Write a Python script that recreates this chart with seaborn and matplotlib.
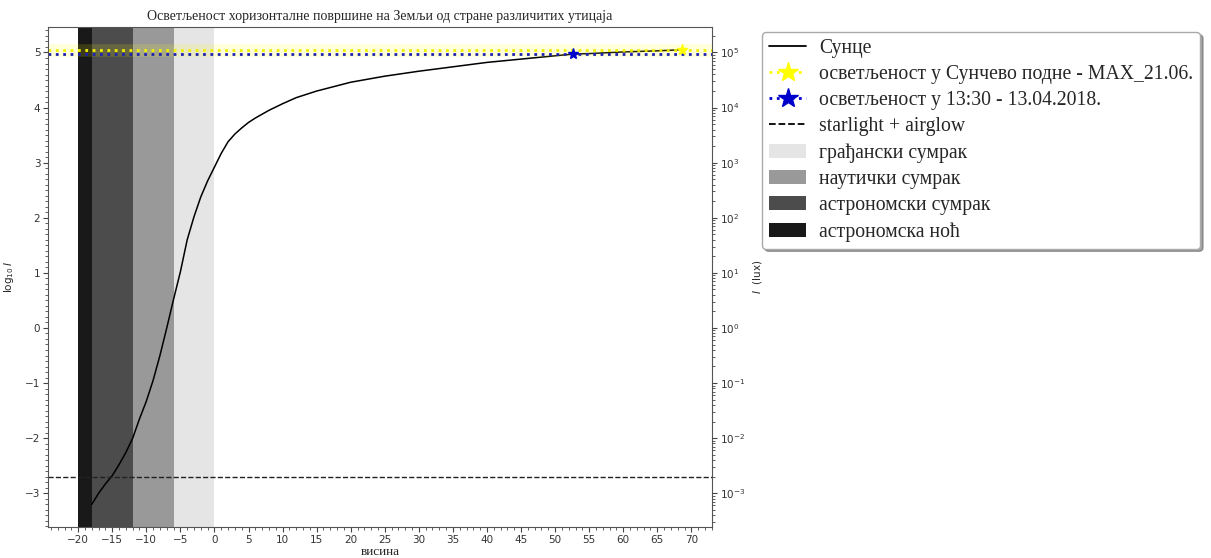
import numpy as np
import pandas as pd
import matplotlib
matplotlib.use('Agg')
import matplotlib.pyplot as plt
from matplotlib.lines import Line2D
from matplotlib.patches import Patch
from matplotlib.ticker import MultipleLocator, FixedLocator, LogLocator, NullFormatter
import seaborn as sns

# ── data ─────────────────────────────────────────────────────────────────────
altitude = [-18, -17, -16, -15, -14, -13, -12, -11, -10, -9, -8, -7, -6, -5, -4,
            -3, -2, -1, 0, 1, 2, 3, 4, 5, 6, 8, 10, 12, 15, 20, 25, 30, 35, 40,
            45, 50, 52.6, 55, 60, 65, 68.6]
log_lux = [-3.2, -3.0, -2.83, -2.68, -2.48, -2.26, -2.0, -1.65, -1.33, -0.95,
           -0.5, 0.0, 0.52, 1.02, 1.6, 2.02, 2.38, 2.67, 2.92, 3.17, 3.38, 3.52,
           3.63, 3.73, 3.81, 3.95, 4.07, 4.18, 4.3, 4.46, 4.57, 4.66, 4.74, 4.82,
           4.88, 4.94, 4.97, 4.98, 5.01, 5.03, 5.05]

noon_max_alt, noon_max_log = 68.6, 5.05      # 21.06.
april_alt, april_log = 52.6, 4.97            # 13:30 - 13.04.2018.
starlight_lux = 0.002

twilight_from = [-6, -12, -18, -20]
twilight_to = [0, -6, -12, -18]
twilight_alpha = [0.1, 0.4, 0.7, 0.9]
twilight_names = ['грађански сумрак', 'наутички сумрак', 'астрономски сумрак', 'астрономска ноћ']

lux_decades = list(range(-3, 6))   # right axis ticks, 10^k lux

title = 'Осветљеност хоризонталне површине на Земљи од стране различитих утицаја'

# ── figure ───────────────────────────────────────────────────────────────────
sns.set_style('white')
plt.rcParams['font.family'] = ['DejaVu Sans']
SERIF = ['Liberation Serif', 'DejaVu Serif']

fig = plt.figure(figsize=(12.11, 5.58), dpi=100)
ax = fig.add_axes([48 / 1211, 1 - 527 / 558, 664 / 1211, 500 / 558])

for a, b, al in zip(twilight_from, twilight_to, twilight_alpha):
    ax.axvspan(a, b, color='black', alpha=al, lw=0)

df = pd.DataFrame({'alt': altitude, 'log': log_lux})
sns.lineplot(data=df, x='alt', y='log', ax=ax, color='black', lw=1.1)

ax.axhline(noon_max_log, color='yellow', alpha=0.15, lw=9)
ax.axhline(noon_max_log, color='#f0f000', ls=':', lw=2)
ax.axhline(april_log, color='#2020b0', ls=':', lw=2)
ax.axhline(np.log10(starlight_lux), color='#222222', ls='--', lw=1)
ax.plot([noon_max_alt], [noon_max_log], marker='*', color='yellow', ms=8, ls='none')
ax.plot([april_alt], [april_log], marker='*', color='#0000cc', ms=8, ls='none')

ax.margins(x=0.05, y=0.05)
ax.xaxis.set_major_locator(MultipleLocator(5))
ax.xaxis.set_minor_locator(MultipleLocator(1))
ax.yaxis.set_major_locator(MultipleLocator(1))
ax.yaxis.set_minor_locator(MultipleLocator(0.1))
ax.tick_params(which='major', length=3.5, width=0.8, labelsize=7.5, colors='#444444',
               direction='out', pad=2)
ax.tick_params(which='minor', length=2, width=0.6, colors='#444444', direction='out')
ax.tick_params(axis='both', labelcolor='#333333')
ax.tick_params(bottom=True, left=True, which='both')
ax.set_xlabel('висина', family=SERIF, fontsize=9.5, labelpad=1)
ax.set_ylabel(r'$\log_{10}I$', fontsize=7.5)
ax.yaxis.set_label_coords(-0.048, 0.5)
ax.set_title(title, family=SERIF, fontsize=10, pad=5)
for s in ax.spines.values():
    s.set_color('#555555')
    s.set_linewidth(0.8)

lo, hi = ax.get_ylim()
ax2 = ax.twinx()
ax2.set_yscale('log')
ax2.set_ylim(10 ** lo, 10 ** hi)
ax2.yaxis.set_major_locator(FixedLocator([10.0 ** k for k in lux_decades]))
ax2.yaxis.set_minor_locator(LogLocator(base=10, subs=np.arange(2, 10), numticks=20))
ax2.yaxis.set_minor_formatter(NullFormatter())
ax2.tick_params(which='major', length=3.5, width=0.8, labelsize=7.5, colors='#444444',
                right=True, pad=2)
ax2.tick_params(which='minor', length=2, width=0.6, colors='#444444', right=True)
ax2.tick_params(axis='y', labelcolor='#333333')
ax2.set_ylabel(r'$I$  (lux)', fontsize=7.5)
ax2.yaxis.set_label_coords(1.058, 0.5)
ax2.grid(False)
for s in ax2.spines.values():
    s.set_visible(False)

handles = [
    Line2D([], [], color='black', lw=1.3),
    Line2D([], [], color='yellow', ls=':', lw=2, marker='*', ms=15),
    Line2D([], [], color='#0000cc', ls=':', lw=2, marker='*', ms=15),
    Line2D([], [], color='black', ls='--', lw=1.3),
] + [Patch(color='black', alpha=al, lw=0) for al in twilight_alpha]
labels = ['Сунце', 'осветљеност у Сунчево подне - MAX_21.06.',
          'осветљеност у 13:30 - 13.04.2018.', 'starlight + airglow'] + twilight_names

leg = fig.legend(handles, labels, loc='upper left', bbox_to_anchor=(762 / 1211, 1 - 32 / 558),
                 bbox_transform=fig.transFigure, borderaxespad=0,
                 prop={'family': SERIF, 'size': 14.2},
                 numpoints=1, frameon=True, shadow=True, fancybox=True, labelspacing=0.36,
                 handlelength=1.9, handletextpad=0.65, borderpad=0.35)
leg.get_frame().set_edgecolor('#aaaaaa')
leg.get_frame().set_facecolor('white')

fig.savefig('out.png', dpi=100)
